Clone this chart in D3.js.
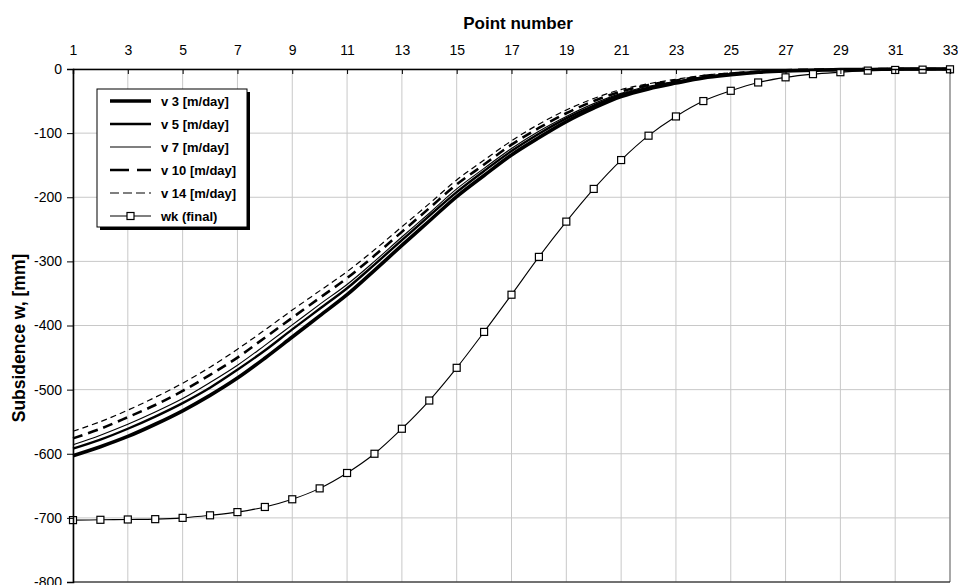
<!DOCTYPE html>
<html>
<head>
<meta charset="utf-8">
<script src="https://cdn.jsdelivr.net/npm/d3@7"></script>
<style>
  html, body { margin: 0; padding: 0; background: #fff; }
  svg { display: block; font-family: "Liberation Sans", Arial, sans-serif; }
</style>
</head>
<body>
<svg id="chart" width="958" height="585"></svg>
<script>
// Point numbers along the profile
const points = d3.range(1, 34);

// Subsidence [mm] for each advance rate, and the final trough
const v3  = [-603,-589,-573,-554,-533,-509,-482,-451,-418,-385,-352,-314,-275,-237,-199,-166,-134,-107,-82,-61,-43,-31,-22,-14,-9,-5,-3,-2,-1,-1,0,0,0];
const v5  = [-592,-578,-561,-542,-521,-497,-469,-439,-406,-374,-342,-305,-267,-229,-192,-159,-128,-101,-77,-57,-40,-29,-20,-13,-8,-5,-3,-2,-1,-1,0,0,0];
const v7  = [-586,-571,-554,-535,-514,-489,-462,-431,-399,-367,-336,-300,-262,-225,-187,-155,-124,-97,-74,-54,-38,-27,-19,-12,-8,-5,-3,-2,-1,-1,0,0,0];
const v10 = [-576,-561,-543,-524,-502,-477,-450,-419,-388,-357,-326,-291,-254,-217,-180,-149,-118,-92,-69,-50,-35,-25,-18,-11,-7,-4,-2,-1,-1,0,0,0,0];
const v14 = [-565,-550,-532,-512,-490,-465,-437,-407,-376,-346,-316,-282,-246,-210,-173,-142,-112,-86,-64,-46,-32,-23,-16,-10,-6,-4,-2,-1,-1,0,0,0,0];
const wk  = [-703.5,-703,-702.5,-702,-700,-696,-691,-683,-671,-654,-630,-600,-561,-517,-466,-410,-352,-293,-238,-187,-142,-104,-74,-50,-34,-21,-13,-8,-5,-2.5,-1.5,-1,-0.5];

// Axis ticks
const xTicks = [1,3,5,7,9,11,13,15,17,19,21,23,25,27,29,31,33];
const yTicks = [0,-100,-200,-300,-400,-500,-600,-700,-800];

const seriesNames = ["v 3 [m/day]", "v 5 [m/day]", "v 7 [m/day]", "v 10 [m/day]", "v 14 [m/day]", "wk (final)"];
const seriesValues = [v3, v5, v7, v10, v14, wk];

// Line styles per series
const styles = [
  { width: 3.6, dash: null,   legendDash: null },
  { width: 2.4, dash: null,   legendDash: null },
  { width: 1.1, dash: null,   legendDash: null },
  { width: 2.6, dash: "10,6", legendDash: "19,8" },
  { width: 1.2, dash: "6,4",  legendDash: "9,4" },
  { width: 1.1, dash: null,   legendDash: null, marker: true }
];

const svg = d3.select("#chart");
const plotLeft = 73, plotRight = 950, plotTop = 69, plotBottom = 582;

const x = d3.scaleLinear().domain([1, 33]).range([plotLeft, plotRight]);
const y = d3.scaleLinear().domain([-800, 0]).range([plotBottom, plotTop]);

// Gridlines
const grid = svg.append("g").attr("stroke", "#c8c8c8").attr("stroke-width", 1);
grid.selectAll("line.v").data(xTicks).join("line").attr("class", "v")
  .attr("x1", d => x(d)).attr("x2", d => x(d))
  .attr("y1", plotTop).attr("y2", plotBottom);
grid.selectAll("line.h").data(yTicks).join("line").attr("class", "h")
  .attr("x1", plotLeft).attr("x2", plotRight)
  .attr("y1", d => y(d)).attr("y2", d => y(d));

// Right and bottom frame
svg.append("line").attr("x1", plotRight).attr("x2", plotRight).attr("y1", plotTop).attr("y2", plotBottom)
  .attr("stroke", "#808080").attr("stroke-width", 1.2);
svg.append("line").attr("x1", plotLeft).attr("x2", plotRight).attr("y1", plotBottom).attr("y2", plotBottom)
  .attr("stroke", "#000").attr("stroke-width", 1.2);

// Series lines
const line = d3.line()
  .x((d, i) => x(points[i]))
  .y(d => y(d))
  .curve(d3.curveCatmullRom.alpha(0.5));

const plot = svg.append("g");
seriesValues.forEach((vals, k) => {
  const st = styles[k];
  plot.append("path")
    .attr("d", line(vals))
    .attr("fill", "none")
    .attr("stroke", "#000")
    .attr("stroke-width", st.width)
    .attr("stroke-dasharray", st.dash)
    .attr("stroke-linejoin", "round");
});

// Square markers for the final trough
plot.selectAll("rect.mk").data(wk).join("rect").attr("class", "mk")
  .attr("x", (d, i) => x(points[i]) - 3.5)
  .attr("y", d => y(d) - 3.5)
  .attr("width", 7).attr("height", 7)
  .attr("fill", "#fff").attr("stroke", "#000").attr("stroke-width", 1.2);

// Axes (plain hyphen for negative numbers)
const fmt = d => String(d);

const xAxis = svg.append("g").attr("transform", `translate(0,${plotTop})`)
  .call(d3.axisTop(x).tickValues(xTicks).tickSize(-5).tickPadding(14).tickFormat(fmt));
xAxis.select(".domain").attr("stroke", "#000").attr("stroke-width", 1.4);
xAxis.selectAll(".tick line").attr("stroke", "#000");
xAxis.selectAll("text").attr("font-size", 14).attr("fill", "#000")
  .attr("font-family", "'Liberation Sans', Arial, sans-serif");

const yAxis = svg.append("g").attr("transform", `translate(${plotLeft},0)`)
  .call(d3.axisLeft(y).tickValues(yTicks).tickSize(6).tickPadding(5).tickFormat(fmt));
yAxis.select(".domain").attr("stroke", "#000").attr("stroke-width", 1.6);
yAxis.selectAll(".tick line").attr("stroke", "#000");
yAxis.selectAll("text").attr("font-size", 14).attr("fill", "#000")
  .attr("font-family", "'Liberation Sans', Arial, sans-serif");

// Axis titles
svg.append("text").attr("x", 518).attr("y", 29).attr("text-anchor", "middle")
  .attr("font-size", 17).attr("font-weight", "bold").text("Point number");
svg.append("text")
  .attr("transform", "translate(25,338) rotate(-90)")
  .attr("text-anchor", "middle")
  .attr("font-size", 17.5).attr("font-weight", "bold")
  .text("Subsidence w, [mm]");

// Legend
const lg = svg.append("g");
const lx = 97, ly = 89, lw = 150, lh = 138;
lg.append("rect").attr("x", lx + 3).attr("y", ly + 3).attr("width", lw).attr("height", lh).attr("fill", "#000");
lg.append("rect").attr("x", lx).attr("y", ly).attr("width", lw).attr("height", lh)
  .attr("fill", "#fff").attr("stroke", "#000").attr("stroke-width", 1);
seriesNames.forEach((name, k) => {
  const ry = 101 + k * 23;
  const st = styles[k];
  lg.append("line").attr("x1", 110).attr("x2", 151).attr("y1", ry).attr("y2", ry)
    .attr("stroke", "#000").attr("stroke-width", st.width)
    .attr("stroke-dasharray", st.legendDash);
  if (st.marker) {
    lg.append("rect").attr("x", 127).attr("y", ry - 3.5).attr("width", 7).attr("height", 7)
      .attr("fill", "#fff").attr("stroke", "#000").attr("stroke-width", 1.2);
  }
  lg.append("text").attr("x", 161).attr("y", ry + 4.5)
    .attr("font-size", 13).attr("font-weight", "bold").text(name);
});
</script>
</body>
</html>
